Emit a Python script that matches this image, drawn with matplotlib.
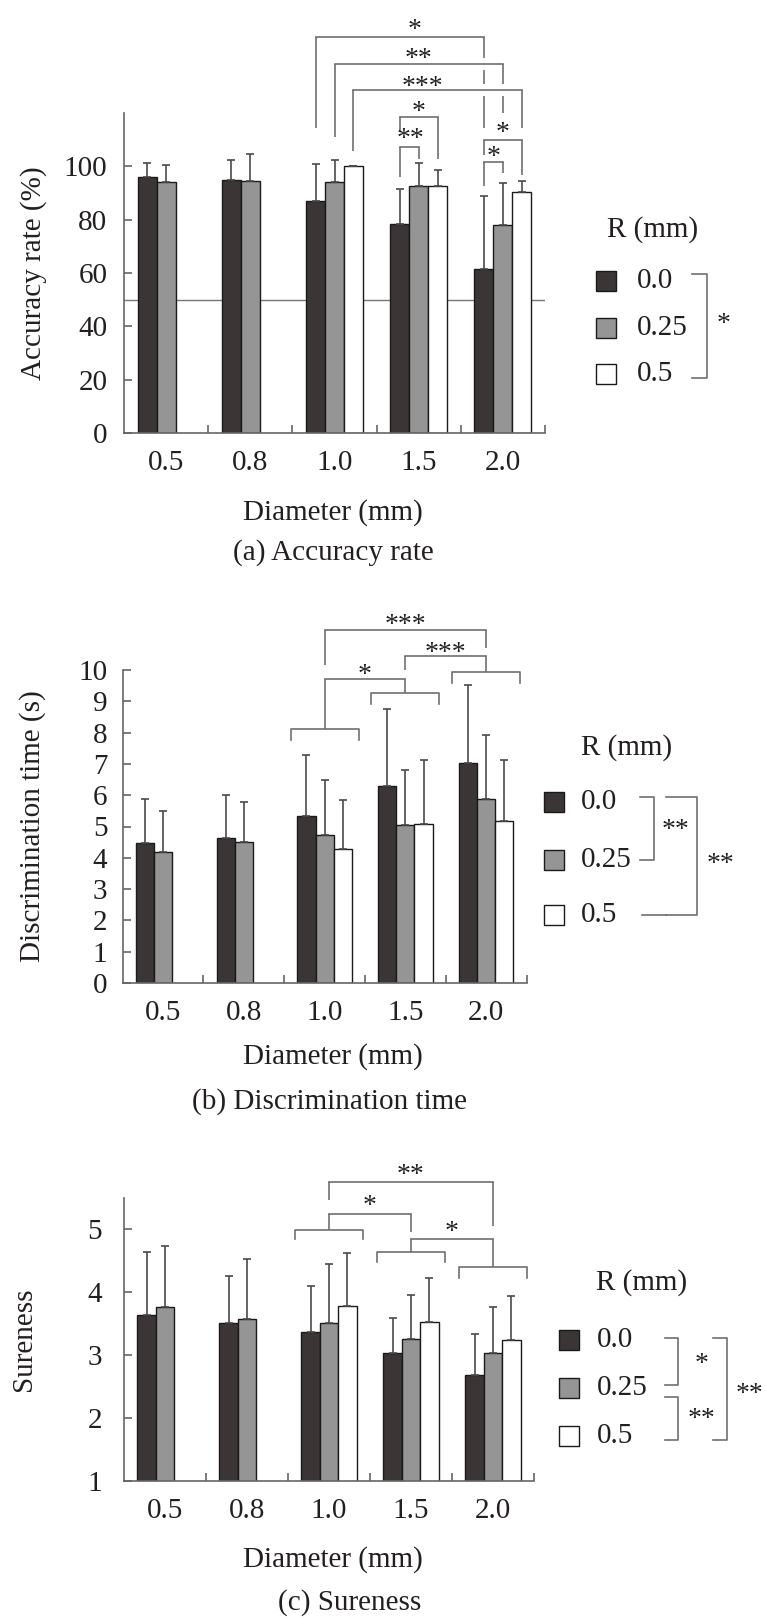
import numpy as np
import matplotlib
matplotlib.use('Agg')
import matplotlib.pyplot as plt
from matplotlib.lines import Line2D
from matplotlib.patches import Rectangle

plt.rcParams['font.family'] = ['Liberation Serif', 'DejaVu Serif']

W, H = 766, 1618

diameters = ['0.5', '0.8', '1.0', '1.5', '2.0']
radii = ['0.0', '0.25', '0.5']
bar_colors = ['#3b3536', '#959595', '#ffffff']

# (a) accuracy rate (%) - mean and SD (upper whisker only), nan = no bar
acc_mean = [[96.0, 95.0, 86.9, 78.3, 61.6],
            [94.1, 94.6, 94.1, 92.6, 78.1],
            [np.nan, np.nan, 100.0, 92.6, 90.2]]
acc_sd = [[5.4, 7.5, 14.1, 13.3, 27.4],
          [6.4, 9.9, 8.4, 8.5, 15.7],
          [np.nan, np.nan, 0.0, 5.9, 4.2]]

# (b) discrimination time (s)
time_mean = [[4.46, 4.63, 5.34, 6.29, 7.03],
             [4.17, 4.50, 4.72, 5.04, 5.87],
             [np.nan, np.nan, 4.27, 5.09, 5.16]]
time_sd = [[1.42, 1.37, 1.95, 2.47, 2.49],
           [1.31, 1.29, 1.77, 1.77, 2.06],
           [np.nan, np.nan, 1.58, 2.02, 1.95]]

# (c) sureness
sure_mean = [[3.63, 3.51, 3.37, 3.03, 2.68],
             [3.76, 3.57, 3.51, 3.26, 3.03],
             [np.nan, np.nan, 3.78, 3.53, 3.24]]
sure_sd = [[1.01, 0.74, 0.72, 0.56, 0.65],
           [0.97, 0.95, 0.93, 0.70, 0.73],
           [np.nan, np.nan, 0.84, 0.69, 0.69]]

BW = 0.225
LC = '#6f6f6f'   # bracket colour
TC = '#231f20'   # text colour
FS = 21


def pos(g, k):
    return g + (k - 1) * BW


def fx(x):
    return x / W


def fy(y):
    return 1 - y / H


fig = plt.figure(figsize=(W / 100, H / 100), dpi=100)


def leg_line(ax, x, ytop, ybot, gaps=(), gap=0.0):
    # vertical leg, broken where other brackets cross it
    pts = [ytop]
    for g in sorted(gaps, reverse=True):
        pts += [g + gap, g - gap]
    pts.append(ybot)
    for i in range(0, len(pts), 2):
        ax.plot([x, x], [pts[i], pts[i + 1]], color=LC, lw=1.2, clip_on=False,
                solid_capstyle='butt')


def bracket(ax, x0, x1, y, e0, e1, label=None, lx=None, ly=None, gaps1=(), gap=0.0):
    ax.plot([x0, x1], [y, y], color=LC, lw=1.2, clip_on=False, solid_capstyle='projecting')
    leg_line(ax, x0, y, e0)
    leg_line(ax, x1, y, e1, gaps1, gap)
    if label:
        ax.annotate(label, (lx, ly), xytext=(0, -10), textcoords='offset points',
                    ha='center', va='baseline', fontsize=20, color=TC,
                    annotation_clip=False)


def group_bracket(ax, g, y, e):
    ax.plot([g - 0.42, g - 0.42, g + 0.42, g + 0.42], [e, y, y, e], color=LC, lw=1.2,
            clip_on=False)


def panel(rect, means, sds, ylim, yticks, ypad):
    ax = fig.add_axes(rect)
    for k in range(3):
        xs = [pos(g, k) for g in range(5)]
        m = np.array(means[k])
        s = np.array(sds[k])
        ok = ~np.isnan(m)
        xs = np.array(xs)[ok]
        ax.bar(xs, m[ok], width=BW, color=bar_colors[k], edgecolor='#1a1a1a',
               linewidth=1.0, zorder=2)
        ax.errorbar(xs, m[ok], yerr=[np.zeros(ok.sum()), s[ok]], fmt='none',
                    ecolor='#4a4a4a', elinewidth=1.2, capsize=3, capthick=1.2, zorder=3)
    ax.set_xlim(-0.5, 4.5)
    ax.set_ylim(*ylim)
    ax.set_yticks(yticks)
    ax.set_yticklabels([str(t) for t in yticks])
    ax.set_xticks(range(5))
    ax.set_xticklabels(diameters)
    ax.set_xticks(np.arange(0.5, 5, 1), minor=True)
    for sp in ['top', 'right']:
        ax.spines[sp].set_visible(False)
    for sp in ['left', 'bottom']:
        ax.spines[sp].set_color('#666666')
        ax.spines[sp].set_linewidth(1.2)
    ax.tick_params(axis='y', direction='in', length=6, width=1.2, color='#666666',
                   labelsize=FS, labelcolor=TC, pad=ypad)
    ax.tick_params(axis='x', which='major', length=0, labelsize=FS, labelcolor=TC, pad=12)
    ax.tick_params(axis='x', which='minor', direction='in', length=6, width=1.2,
                   color='#666666')
    return ax


def legend(x_sq, x_lab, rows, title_xy):
    fig.text(fx(title_xy[0]), fy(title_xy[1]), 'R (mm)', ha='center', va='center',
             fontsize=FS, color=TC)
    for k, r in enumerate(radii):
        fig.patches.append(Rectangle((fx(x_sq), fy(rows[k] + 10)), 20 / W, 20 / H,
                                     transform=fig.transFigure, facecolor=bar_colors[k],
                                     edgecolor='#1a1a1a', lw=1.0))
        fig.text(fx(x_lab), fy(rows[k]), r, ha='left', va='center', fontsize=FS, color=TC)


def fig_bracket(x0, x1, y0, y1):
    fig.add_artist(Line2D([fx(x0), fx(x1), fx(x1), fx(x0)], [fy(y0), fy(y0), fy(y1), fy(y1)],
                          color=LC, lw=1.2))


def fig_star(x, y, s):
    fig.text(fx(x), fy(y + 9), s, ha='center', va='baseline', fontsize=20, color=TC)


def captions(ylab, ylab_x, ycen, xlab_y, cap, cap_x, cap_y):
    fig.text(fx(ylab_x), fy(ycen), ylab, rotation=90, ha='center', va='center',
             fontsize=FS, color=TC)
    fig.text(fx(333), fy(xlab_y), 'Diameter (mm)', ha='center', va='center',
             fontsize=FS, color=TC)
    fig.text(fx(cap_x), fy(cap_y), cap, ha='center', va='center', fontsize=FS, color=TC)


# ---------------- (a) Accuracy rate ----------------
axa = panel([fx(124), fy(433), (545 - 124) / W, 320 / H], acc_mean, acc_sd,
            (0, 120), [0, 20, 40, 60, 80, 100], 12)
axa.axhline(50, color='#777777', lw=1.0, zorder=1)
bracket(axa, pos(2, 0), pos(4, 0), 148.4, 114.2, 114.5, '*', 2.95, 153.6,
        gaps1=(138.4, 128.6), gap=2.4)
bracket(axa, pos(2, 1), pos(4, 1), 138.4, 110.9, 120.0, '**', 3.0, 142.7,
        gaps1=(128.6,), gap=2.4)
bracket(axa, pos(2, 2), pos(4, 2), 128.6, 105.6, 114.5, '***', 3.05, 132.5)
bracket(axa, pos(3, 0), pos(3, 2), 118.6, 113.4, 102.7, '*', 3.0, 122.9)
bracket(axa, pos(3, 0), pos(3, 1), 107.4, 96.0, 102.8, '**', 2.9, 112.7)
bracket(axa, pos(4, 0), pos(4, 2), 109.8, 104.4, 96.9, '*', 4.0, 115.0)
bracket(axa, pos(4, 0), pos(4, 1), 101.5, 92.5, 97.5, '*', 3.89, 106.0)
captions('Accuracy rate (%)', 34, 273, 513, '(a) Accuracy rate', 333, 553)
legend(596, 637, [281, 328, 374], (653, 230))
fig_bracket(692, 707, 274, 378)
fig_star(724, 322, '*')

# ---------------- (b) Discrimination time ----------------
axb = panel([fx(122.6), fy(983), 404 / W, 313 / H], time_mean, time_sd,
            (0, 10), list(range(11)), 11)
for g, y, e in [(2, 8.10, 7.77), (3, 9.28, 8.91), (4, 9.93, 9.57)]:
    group_bracket(axb, g, y, e)
bracket(axb, 2, 3, 9.70, 8.10, 9.28, '*', 2.5, 10.05)
bracket(axb, 3, 4, 10.45, 10.0, 9.93, '***', 3.5, 10.77)
bracket(axb, 2, 4, 11.28, 10.16, 10.69, '***', 3.0, 11.65)
captions('Discrimination time (s)', 33, 826, 1057, '(b) Discrimination time', 330, 1102)
legend(544, 581, [802, 860, 915], (627, 748))
fig_bracket(640, 654, 797, 860)
fig_star(676, 828, '**')
fig_bracket(666, 697, 797, 915)
fig.add_artist(Line2D([fx(642), fx(666)], [fy(915), fy(915)], color=LC, lw=1.2))
fig_star(721, 862, '**')

# ---------------- (c) Sureness ----------------
axc = panel([fx(124), fy(1481), 410 / W, 283.5 / H], sure_mean, sure_sd,
            (1, 5.5), [1, 2, 3, 4, 5], 16)
for g, y, e in [(2, 4.99, 4.84), (3, 4.63, 4.48), (4, 4.39, 4.23)]:
    group_bracket(axc, g, y, e)
bracket(axc, 2, 3, 5.24, 4.99, 4.96, '*', 2.5, 5.47)
bracket(axc, 3, 4, 4.84, 4.63, 4.39, '*', 3.5, 5.06)
bracket(axc, 2, 4, 5.74, 5.46, 5.04, '**', 3.0, 5.96)
captions('Sureness', 24, 1339, 1560, '(c) Sureness', 350, 1603)
legend(559, 597, [1340, 1388, 1436], (642, 1283))
fig_bracket(665, 678, 1338, 1385)
fig_bracket(665, 678, 1397, 1440)
fig_star(702, 1362, '*')
fig_star(702, 1417, '**')
fig_bracket(713, 727, 1338, 1440)
fig_star(750, 1392, '**')

fig.savefig('out.png', dpi=100)
